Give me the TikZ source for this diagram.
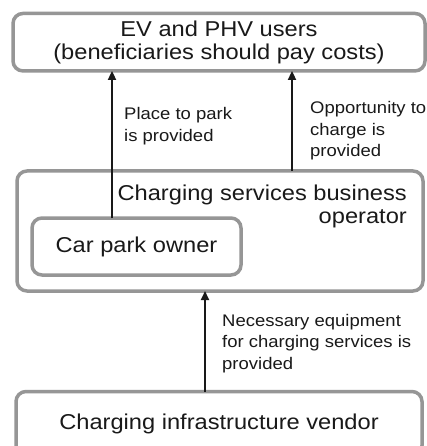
\documentclass[tikz,border=0pt]{standalone}
\usepackage{fontspec}
\setmainfont{Liberation Sans}[FakeStretch=1.1]
\usetikzlibrary{arrows.meta}
\definecolor{boxgray}{RGB}{150,150,150}
\definecolor{ink}{RGB}{25,25,25}

\tikzset{
  box/.style={draw=boxgray, line width=3.5pt, rounded corners=10pt,
    inner sep=0pt, outer sep=0pt, text=ink, align=center,
    font=\fontsize{21.5}{23.5}\selectfont},
  flow/.style={draw=ink, line width=2pt, -{Triangle[length=9pt,width=8pt]}},
  biglabel/.style={inner sep=0pt, text=ink, font=\fontsize{21.5}{23.5}\selectfont},
  smalllabel/.style={inner sep=0pt, text=ink, align=left,
    font=\fontsize{16.8}{21.5}\selectfont},
}

\begin{document}
\begin{tikzpicture}[x=1pt, y=-1pt]
  \fill[white] (0,0) rectangle (427,446);
  \useasboundingbox (0,0) rectangle (427,446);

  % actors
  \node[box, minimum width=412pt, minimum height=57.5pt] (users) at (219,42.2)
    {EV and PHV users\\(beneficiaries should pay costs)};
  \node[box, minimum width=406pt, minimum height=120pt] (operator) at (220,231) {};
  \node[biglabel, anchor=north east, align=right] (operatorlabel) at (407,184.5)
    {Charging services business\\operator};
  \node[box, minimum width=209pt, minimum height=57pt] (owner) at (136.5,246.5)
    {Car park owner};
  \node[box, minimum width=406pt, minimum height=64pt] (vendor) at (219,423.5)
    {Charging infrastructure vendor};

  % columns of the connectors
  \coordinate (colA) at (112,0);
  \coordinate (colB) at (292,0);
  \coordinate (colC) at (205,0);

  % what each party provides
  \draw[flow] (owner.north -| colA) -- (users.south -| colA);
  \draw[flow] (operator.north -| colB) -- (users.south -| colB);
  \draw[flow] (vendor.north -| colC) -- (operator.south -| colC);

  \node[smalllabel, anchor=north west] (parklabel) at (124,107.2)
    {Place to park\\is provided};
  \node[smalllabel, anchor=north west] (chargelabel) at (310,101.2)
    {Opportunity to\\charge is\\provided};
  \node[smalllabel, anchor=north west] (equiplabel) at (222,313.9)
    {Necessary equipment\\for charging services is\\provided};
\end{tikzpicture}
\end{document}
